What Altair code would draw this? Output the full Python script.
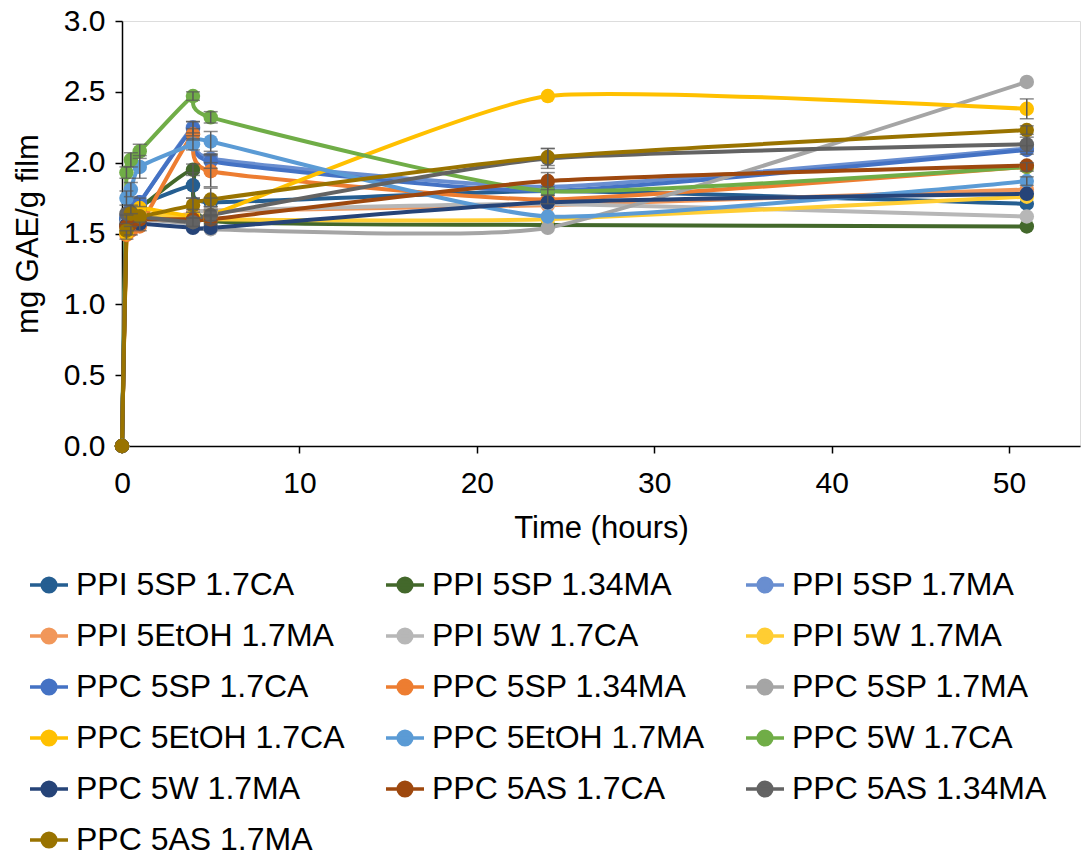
import altair as alt
import pandas as pd

times = [0, 0.25, 0.5, 1, 4, 5, 24, 51]

names = [
    "PPI 5SP 1.7CA", "PPI 5SP 1.34MA", "PPI 5SP 1.7MA",
    "PPI 5EtOH 1.7MA", "PPI 5W 1.7CA", "PPI 5W 1.7MA",
    "PPC 5SP 1.7CA", "PPC 5SP 1.34MA", "PPC 5SP 1.7MA",
    "PPC 5EtOH 1.7CA", "PPC 5EtOH 1.7MA", "PPC 5W 1.7CA",
    "PPC 5W 1.7MA", "PPC 5AS 1.7CA", "PPC 5AS 1.34MA",
    "PPC 5AS 1.7MA",
]
colors = [
    "#255E91", "#43682B", "#698ED0",
    "#F1975A", "#B7B7B7", "#FFCD33",
    "#4472C4", "#ED7D31", "#A5A5A5",
    "#FFC000", "#5B9BD5", "#70AD47",
    "#264478", "#9E480E", "#636363",
    "#997300",
]

v_ppi_sp_17ca = [0, 1.60, 1.64, 1.70, 1.84, 1.72, 1.80, 1.71]
v_ppi_sp_134ma = [0, 1.60, 1.64, 1.68, 1.95, 1.59, 1.56, 1.55]
v_ppi_sp_17ma = [0, 1.62, 1.68, 1.72, 2.25, 2.03, 1.83, 2.10]
v_ppi_etoh_17ma = [0, 1.55, 1.57, 1.60, 1.64, 1.66, 1.70, 1.81]
v_ppi_w_17ca = [0, 1.58, 1.60, 1.62, 1.63, 1.66, 1.71, 1.62]
v_ppi_w_17ma = [0, 1.56, 1.60, 1.63, 1.62, 1.60, 1.60, 1.76]
v_ppc_sp_17ca = [0, 1.60, 1.67, 1.72, 2.24, 2.01, 1.80, 2.09]
v_ppc_sp_134ma = [0, 1.49, 1.52, 1.55, 2.20, 1.94, 1.74, 1.97]
v_ppc_sp_17ma = [0, 1.57, 1.59, 1.60, 1.57, 1.53, 1.54, 2.57]
v_ppc_etoh_17ca = [0, 1.50, 1.62, 1.68, 1.62, 1.63, 2.47, 2.38]
v_ppc_etoh_17ma = [0, 1.75, 1.81, 1.97, 2.13, 2.15, 1.62, 1.87]
v_ppc_w_17ca = [0, 1.93, 2.02, 2.08, 2.47, 2.32, 1.80, 1.97]
v_ppc_w_17ma = [0, 1.56, 1.57, 1.57, 1.54, 1.54, 1.72, 1.78]
v_ppc_as_17ca = [0, 1.55, 1.57, 1.60, 1.60, 1.60, 1.87, 1.98]
v_ppc_as_134ma = [0, 1.64, 1.65, 1.62, 1.58, 1.63, 2.03, 2.13]
v_ppc_as_17ma = [0, 1.52, 1.64, 1.62, 1.70, 1.74, 2.04, 2.23]

values = [
    v_ppi_sp_17ca, v_ppi_sp_134ma, v_ppi_sp_17ma, v_ppi_etoh_17ma,
    v_ppi_w_17ca, v_ppi_w_17ma, v_ppc_sp_17ca, v_ppc_sp_134ma,
    v_ppc_sp_17ma, v_ppc_etoh_17ca, v_ppc_etoh_17ma, v_ppc_w_17ca,
    v_ppc_w_17ma, v_ppc_as_17ca, v_ppc_as_134ma, v_ppc_as_17ma,
]

# error (± SD) per series and time point
errors = [
    [0, 0.02, 0.02, 0.02, 0.09, 0.03, 0.02, 0.02],
    [0, 0.02, 0.02, 0.02, 0.04, 0.03, 0.01, 0.01],
    [0, 0.02, 0.02, 0.02, 0.04, 0.03, 0.02, 0.02],
    [0, 0.02, 0.02, 0.02, 0.03, 0.03, 0.02, 0.02],
    [0, 0.02, 0.02, 0.02, 0.02, 0.02, 0.02, 0.02],
    [0, 0.02, 0.02, 0.02, 0.02, 0.02, 0.02, 0.02],
    [0, 0.03, 0.03, 0.03, 0.05, 0.05, 0.03, 0.03],
    [0, 0.03, 0.03, 0.03, 0.04, 0.11, 0.03, 0.03],
    [0, 0.02, 0.02, 0.02, 0.02, 0.02, 0.02, 0.02],
    [0, 0.02, 0.02, 0.02, 0.02, 0.02, 0.02, 0.07],
    [0, 0.05, 0.05, 0.08, 0.04, 0.07, 0.02, 0.03],
    [0, 0.04, 0.05, 0.05, 0.03, 0.04, 0.02, 0.02],
    [0, 0.02, 0.02, 0.02, 0.02, 0.02, 0.02, 0.02],
    [0, 0.02, 0.02, 0.02, 0.02, 0.03, 0.06, 0.02],
    [0, 0.02, 0.02, 0.02, 0.03, 0.04, 0.07, 0.05],
    [0, 0.02, 0.02, 0.02, 0.05, 0.08, 0.06, 0.03],
]

rows = []
for si, (name, vals, errs) in enumerate(zip(names, values, errors)):
    for t, v, e in zip(times, vals, errs):
        rows.append({"series": name, "idx": si, "time": t, "value": v,
                     "lo": v - e, "hi": v + e})
df = pd.DataFrame(rows)

FONT = "Liberation Sans"

x_scale = alt.Scale(domain=[0, 54], nice=False, zero=False)
y_scale = alt.Scale(domain=[0, 3], nice=False)
color_scale = alt.Scale(domain=names, range=colors)

legend = alt.Legend(
    orient="none", legendX=-94, legendY=543, columns=3, direction="horizontal",
    title=None,
    symbolType="M-1,0H1M0.36,0A0.36,0.36,0,1,1,-0.36,0A0.36,0.36,0,1,1,0.36,0Z",
    symbolSize=1444, symbolStrokeWidth=3.5, labelFontSize=32, labelFont=FONT,
    labelColor="black", rowPadding=14, columnPadding=34, labelOffset=6,
    labelLimit=600,
)

axis_common = dict(grid=False, tickSize=7, labelFont=FONT, titleFont=FONT,
                   titleFontWeight="normal", domainColor="black",
                   tickColor="black", labelColor="black", titleColor="black",
                   domainWidth=1.5, tickWidth=1.5, labelFlush=False,
                   labelOverlap=False)
x_axis = alt.Axis(values=[0, 10, 20, 30, 40, 50], format="d",
                  labelPadding=15, titlePadding=15,
                  labelFontSize=30, titleFontSize=31, **axis_common)
y_axis = alt.Axis(values=[0, 0.5, 1, 1.5, 2, 2.5, 3], format=".1f",
                  labelPadding=10, titlePadding=19,
                  labelFontSize=30, titleFontSize=31, **axis_common)

base = alt.Chart(df)

lines = base.mark_line(interpolate="cardinal", tension=0.5, strokeWidth=4).encode(
    x=alt.X("time:Q", scale=x_scale, axis=x_axis, title="Time (hours)"),
    y=alt.Y("value:Q", scale=y_scale, axis=y_axis, title="mg GAE/g film"),
    color=alt.Color("series:N", scale=color_scale, legend=legend, sort=names),
    detail="idx:O",
)

points = base.mark_circle(size=210, opacity=1).encode(
    x=alt.X("time:Q", scale=x_scale),
    y=alt.Y("value:Q", scale=y_scale),
    color=alt.Color("series:N", scale=color_scale, legend=legend, sort=names),
)

err_df = df[df["hi"] - df["lo"] > 0.05]
err_base = alt.Chart(err_df)
err_rules = err_base.mark_rule(color="#595959", strokeWidth=1.5).encode(
    x=alt.X("time:Q", scale=x_scale),
    y=alt.Y("lo:Q", scale=y_scale),
    y2="hi:Q",
)
err_lo = err_base.mark_tick(color="#595959", thickness=1.5, size=14,
                            orient="horizontal").encode(
    x=alt.X("time:Q", scale=x_scale),
    y=alt.Y("lo:Q", scale=y_scale),
)
err_hi = err_base.mark_tick(color="#595959", thickness=1.5, size=14,
                            orient="horizontal").encode(
    x=alt.X("time:Q", scale=x_scale),
    y=alt.Y("hi:Q", scale=y_scale),
)

chart = alt.layer(lines, points, err_rules, err_lo, err_hi).properties(
    width=958, height=425,
    autosize=alt.AutoSizeParams(type="none"),
    padding={"left": 122, "top": 21, "right": 1, "bottom": 413},
).configure_view(stroke=None).configure(background="white")

chart.save("out.html", embed_options={"renderer": "svg", "actions": False})
